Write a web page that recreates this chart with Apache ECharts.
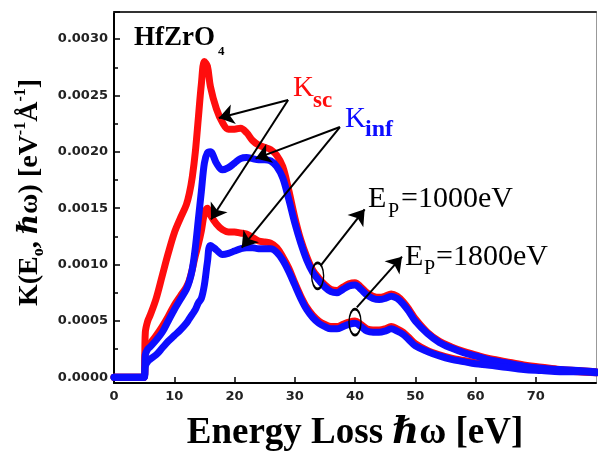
<!DOCTYPE html>
<html>
<head>
<meta charset="utf-8">
<script src="https://cdn.jsdelivr.net/npm/echarts@6/dist/echarts.min.js"></script>
<style>
  html, body { margin: 0; padding: 0; background: #fff; }
  #chart { width: 598px; height: 453px; }
</style>
</head>
<body>
<div id="chart"></div>
<script>
// energy loss grid (eV)
const energy = [0, 5, 5.2, 5.6, 6, 7, 8, 9, 10, 11, 12, 12.5, 13, 13.5, 14, 14.5, 15, 15.5, 16,
  17, 18, 19, 20, 21, 22, 23, 24, 25, 26, 27, 28, 29, 30, 31, 32, 33, 34, 35, 36, 37, 38, 39, 40,
  41, 42, 43, 44, 45, 46, 47, 48, 49, 50, 52, 54, 56, 58, 60, 62, 65, 68, 71, 74, 77, 80];

// K_sc, Ep = 1000 eV (red, upper)
const ksc1000 = [0, 0, 0.0004, 0.0005, 0.00055, 0.0007, 0.0009, 0.0011, 0.00128, 0.00141, 0.00153, 0.00163, 0.00178, 0.002, 0.0023, 0.0026, 0.0028, 0.00276, 0.00258,
  0.00238, 0.00226, 0.0022, 0.0022, 0.00221, 0.00217, 0.0021, 0.00206, 0.00204, 0.00202, 0.00197, 0.00187, 0.00166, 0.00142, 0.00122, 0.00107, 0.00095, 0.00088, 0.00082, 0.00078, 0.00077, 0.0008, 0.00083, 0.00084,
  0.0008, 0.00075, 0.00072, 0.00071, 0.00072, 0.00074, 0.00072, 0.00067, 0.0006, 0.00052, 0.0004, 0.00032, 0.00027, 0.00023, 0.0002, 0.00017, 0.00014, 0.00011, 0.00009, 0.00007, 0.00006, 0.00005];

// K_inf, Ep = 1000 eV (blue, upper)
const kinf1000 = [0, 0, 0.0002, 0.00025, 0.00027, 0.00033, 0.0004, 0.0005, 0.0006, 0.00069, 0.00078, 0.00085, 0.00096, 0.00115, 0.0014, 0.00165, 0.0019, 0.00199, 0.002,
  0.0019, 0.00184, 0.00186, 0.0019, 0.00194, 0.00195, 0.00194, 0.00193, 0.00193, 0.00192, 0.00187, 0.00177, 0.00158, 0.00137, 0.00119, 0.00104, 0.00093, 0.00086, 0.0008, 0.00076, 0.00075, 0.00078, 0.00081, 0.00082,
  0.00078, 0.00073, 0.0007, 0.00069, 0.0007, 0.00072, 0.0007, 0.00065, 0.00058, 0.0005, 0.00039, 0.00031, 0.00026, 0.00022, 0.00019, 0.00016, 0.00013, 0.0001, 0.00008, 0.00007, 0.00006, 0.00005];

// K_sc, Ep = 1800 eV (red, lower)
const ksc1800 = [0, 0, 0.00022, 0.00027, 0.0003, 0.00037, 0.00045, 0.00054, 0.00064, 0.00072, 0.0008, 0.00086, 0.00096, 0.00108, 0.00118, 0.0013, 0.00145, 0.0015, 0.00144,
  0.00136, 0.00131, 0.00129, 0.00129, 0.00128, 0.00127, 0.00124, 0.00121, 0.0012, 0.00119, 0.00115, 0.00107, 0.00097, 0.00084, 0.00072, 0.00062, 0.00055, 0.0005, 0.00047, 0.00045, 0.00045, 0.00047, 0.00049, 0.0005,
  0.00047, 0.00043, 0.00042, 0.00042, 0.00043, 0.00045, 0.00043, 0.0004, 0.00035, 0.0003, 0.00024, 0.0002, 0.00017, 0.00015, 0.00013, 0.00012, 0.0001, 0.00008, 0.00007, 0.00006, 0.00005, 0.00004];

// K_inf, Ep = 1800 eV (blue, lower)
const kinf1800 = [0, 0, 0.0001, 0.00014, 0.00016, 0.0002, 0.00026, 0.00032, 0.00037, 0.00042, 0.00048, 0.00052, 0.00056, 0.0006, 0.00066, 0.0007, 0.00082, 0.00102, 0.00117,
  0.00113, 0.00109, 0.0011, 0.00112, 0.00114, 0.00115, 0.00115, 0.00114, 0.00114, 0.00114, 0.00111, 0.00104, 0.00094, 0.00082, 0.0007, 0.0006, 0.00053, 0.00048, 0.00045, 0.00043, 0.00043, 0.00045, 0.00047, 0.00048,
  0.00045, 0.00041, 0.0004, 0.0004, 0.00041, 0.00043, 0.00041, 0.00038, 0.00033, 0.00028, 0.00023, 0.00019, 0.00016, 0.00014, 0.00012, 0.00011, 0.00009, 0.00007, 0.00006, 0.00005, 0.00005, 0.00004];

// annotation arrows [from, to] in data units
const arrows = [
  [[28.9, 0.00246], [17.4, 0.0023]],
  [[28.9, 0.00246], [16.1, 0.0014]],
  [[37.5, 0.00222], [23.5, 0.00194]],
  [[37.5, 0.00222], [21.2, 0.00115]],
  [[34.3, 0.00099], [41.6, 0.00149]],
  [[40.3, 0.00062], [47.8, 0.00107]]
];
// the little rings marking each beam energy
const rings = [[33.8, 0.0009], [40.0, 0.00049]];

const serif = "'Liberation Serif', 'DejaVu Serif', serif";
const RED = '#ff0d0d';
const BLUE = '#0d0dff';

function zip(ys) {
  return energy.map((e, i) => [e, ys[i]]);
}

function curve(name, ys, color, extra) {
  return Object.assign({
    name: name,
    type: 'line',
    data: zip(ys),
    showSymbol: false,
    smooth: 0.35,
    lineStyle: { color: color, width: 7, join: 'round', cap: 'round' },
    itemStyle: { color: color },
    silent: true
  }, extra || {});
}

function txt(x, y, text, font, color) {
  return {
    type: 'text', x: x, y: y, z: 100,
    style: { text: text, font: font, fill: color || '#000', align: 'left', verticalAlign: 'middle' }
  };
}

const chart = echarts.init(document.getElementById('chart'));

const option = {
  animation: false,
  backgroundColor: '#fff',
  grid: { left: 114, right: 2, top: 12, bottom: 70, outerBoundsMode: 'none' },
  xAxis: [{
    type: 'value',
    min: 0, max: 80, interval: 10,
    name: 'Energy Loss ℏω [eV]',
    nameLocation: 'middle',
    nameGap: 32,
    nameTextStyle: { fontFamily: serif, fontWeight: 'bold', fontSize: 37, color: '#000' },
    axisLine: { show: true, onZero: false, lineStyle: { color: '#000', width: 2 } },
    axisTick: { show: true, inside: true, length: 6, lineStyle: { color: '#000', width: 1.5 } },
    axisLabel: {
      showMaxLabel: false, margin: 7,
      fontFamily: 'DejaVu Sans', fontWeight: 'bold', fontSize: 13, color: '#222'
    },
    splitLine: { show: false }
  }, {
    type: 'value', position: 'top', min: 0, max: 80,
    axisLine: { show: true, onZero: false, lineStyle: { color: '#333', width: 2 } },
    axisTick: { show: false }, axisLabel: { show: false }, splitLine: { show: false }
  }],
  yAxis: [{
    type: 'value',
    min: -0.00005, max: 0.00324,
    name: '{m|K(E}{sub|o}{m|, ℏω) [eV}{sup|-1}{m|Å}{sup|-1}{m|]}',
    nameLocation: 'middle',
    nameRotate: 90,
    nameGap: 66,
    nameTextStyle: {
      padding: [0, 0, 0, 10],
      rich: {
        m: { fontFamily: serif, fontWeight: 'bold', fontSize: 28, lineHeight: 34, color: '#000' },
        sub: { fontFamily: serif, fontWeight: 'bold', fontSize: 16, lineHeight: 16, verticalAlign: 'bottom', color: '#000' },
        sup: { fontFamily: serif, fontWeight: 'bold', fontSize: 16, lineHeight: 16, verticalAlign: 'top', color: '#000' }
      }
    },
    axisLine: { show: true, onZero: false, lineStyle: { color: '#000', width: 2 } },
    axisTick: { show: true, inside: true, length: 6, lineStyle: { color: '#000', width: 1.5 } },
    minorTick: { show: true, splitNumber: 2, length: 4, lineStyle: { color: '#000', width: 1.5 } },
    axisLabel: {
      showMinLabel: false, showMaxLabel: false, margin: 6,
      fontFamily: 'DejaVu Sans', fontWeight: 'bold', fontSize: 13, color: '#222',
      formatter: v => v.toFixed(4)
    },
    splitLine: { show: false }
  }, {
    type: 'value', position: 'right', min: -0.00005, max: 0.00324,
    axisLine: { show: true, onZero: false, lineStyle: { color: '#999', width: 1 } },
    axisTick: { show: false }, axisLabel: { show: false }, splitLine: { show: false }
  }],
  series: [
    curve('Ksc 1000 eV', ksc1000, RED),
    curve('Ksc 1800 eV', ksc1800, RED),
    curve('Kinf 1000 eV', kinf1000, BLUE),
    curve('Kinf 1800 eV', kinf1800, BLUE, {
      markLine: {
        silent: true,
        symbol: ['none', 'arrow'],
        symbolSize: 15,
        label: { show: false },
        lineStyle: { color: '#000', width: 2, type: 'solid' },
        data: arrows.map(a => [{ coord: a[0] }, { coord: a[1] }])
      },
      markPoint: {
        silent: true,
        symbol: 'circle',
        symbolSize: [12, 26],
        label: { show: false },
        itemStyle: { color: 'none', borderColor: '#000', borderWidth: 2 },
        data: rings.map(r => ({ coord: r }))
      }
    })
  ],
  graphic: [
    txt(134, 38, 'HfZrO', 'bold 27px ' + serif),
    txt(218, 52, '4', 'bold 13px ' + serif),
    txt(293, 88, 'K', '29px ' + serif, RED),
    txt(313, 101, 'sc', 'bold 23px ' + serif, RED),
    txt(345, 119, 'K', '29px ' + serif, BLUE),
    txt(365, 130, 'inf', 'bold 24px ' + serif, BLUE),
    txt(368, 199, 'E', '30px ' + serif),
    txt(388, 212, 'P', '20px ' + serif),
    txt(401, 199, '=1000eV', '30px ' + serif),
    txt(405, 257, 'E', '30px ' + serif),
    txt(424, 269, 'P', '20px ' + serif),
    txt(436, 257, '=1800eV', '30px ' + serif)
  ]
};

chart.setOption(option);
</script>
</body>
</html>
